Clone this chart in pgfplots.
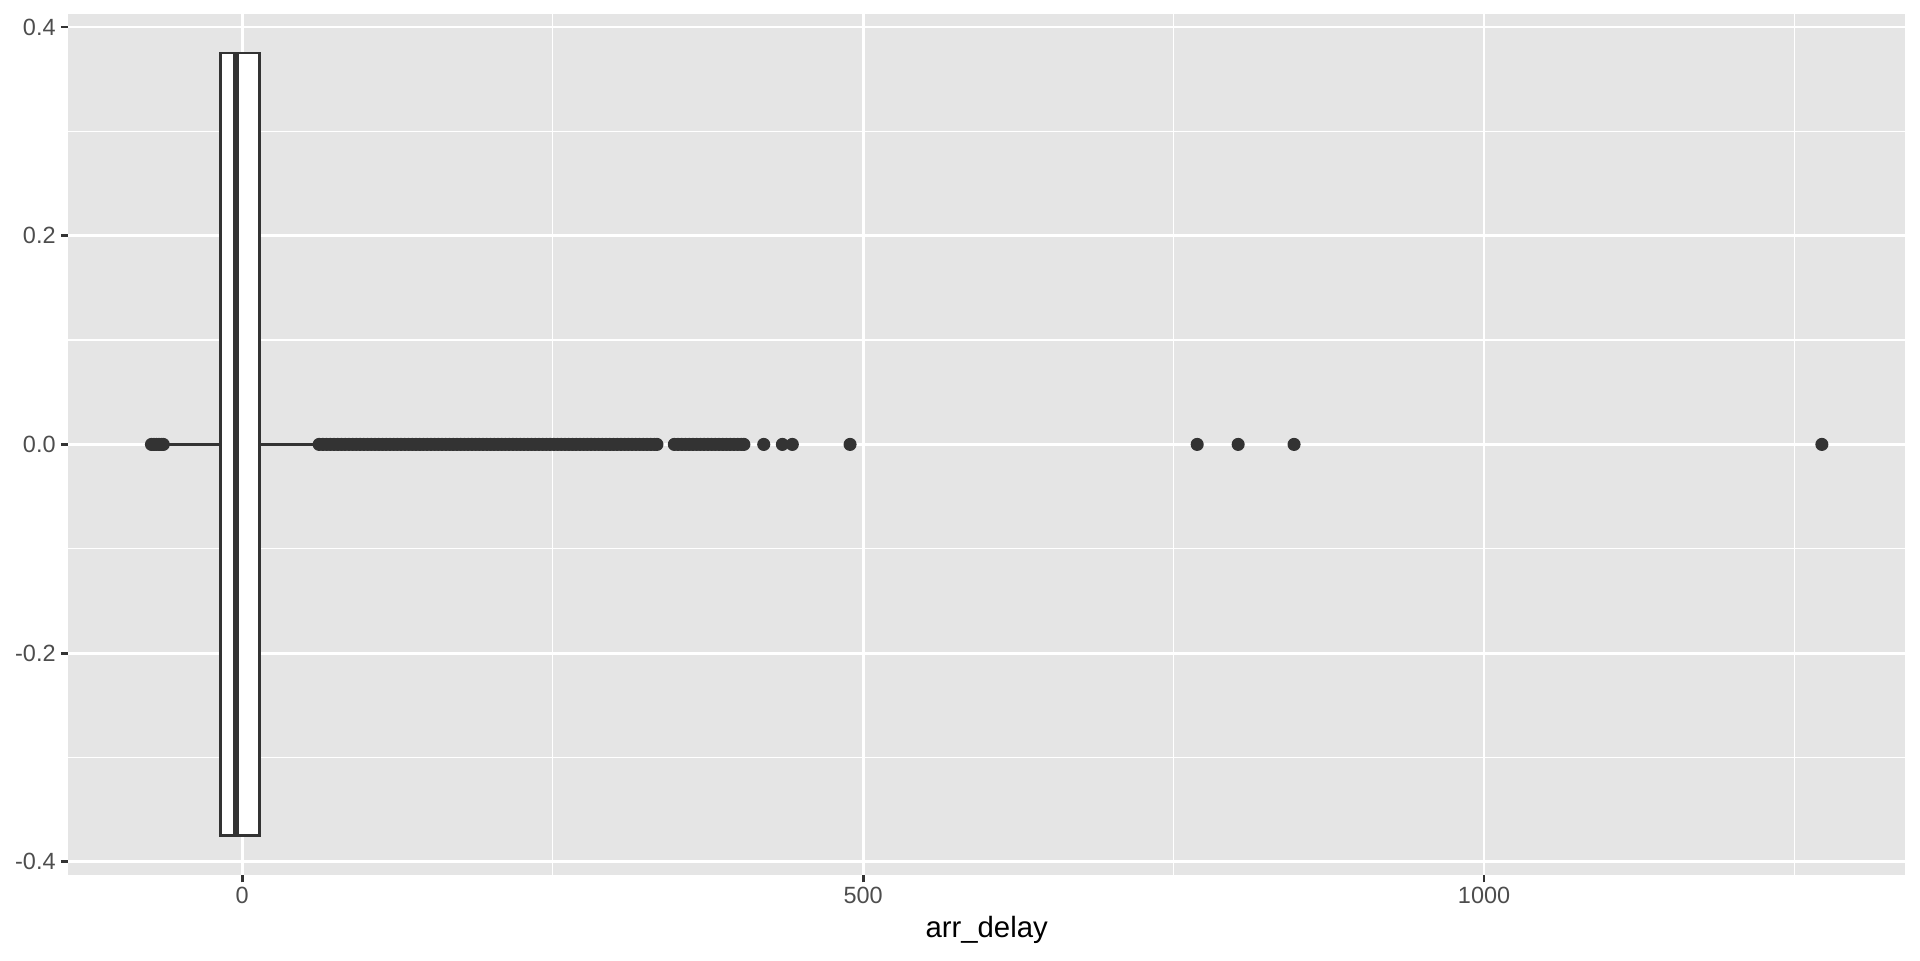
\documentclass[border=0pt]{standalone}
\usepackage{fontspec}
\setmainfont{Liberation Sans}
\usepackage{pgfplots}
\pgfplotsset{compat=1.18}
\usepgfplotslibrary{statistics}
\definecolor{panelbg}{HTML}{E5E5E5}
\definecolor{gtwenty}{HTML}{333333}
\definecolor{gthirty}{HTML}{4D4D4D}
\begin{document}
\begin{tikzpicture}
\path[use as bounding box] (0,0) rectangle (720pt,360pt);
\begin{axis}[
  at={(25.6pt,31.9pt)}, anchor=south west,
  scale only axis, width=688.8pt, height=322.9pt,
  xmin=-140, xmax=1339, ymin=-0.4125, ymax=0.4125,
  xtick={0,500,1000}, xticklabels={0,500,1000},
  minor xtick={250,750,1250},
  ytick={-0.4,-0.2,0,0.2,0.4}, yticklabels={-0.4,-0.2,0.0,0.2,0.4},
  minor ytick={-0.3,-0.1,0.1,0.3},
  /pgf/number format/assume math mode=true,
  axis background/.style={fill=panelbg},
  axis line style={draw=none},
  grid=both,
  major grid style={white, line width=1.07pt},
  minor grid style={white, line width=0.53pt},
  tick align=outside, xtick pos=bottom, ytick pos=left,
  major tick length=2.75pt, minor tick length=0pt,
  tick style={gtwenty, line width=1.07pt},
  ticklabel style={font=\fontsize{8.8}{10}\selectfont, text=gthirty},
  xticklabel style={anchor=north, inner sep=0pt, yshift=-1.5pt},
  yticklabel style={anchor=east, inner sep=0pt, xshift=-1.8pt},
  xlabel={arr\_delay},
  xlabel style={font=\fontsize{11}{13}\selectfont, text=black, yshift=-1.4pt},
  clip=true,
]
\addplot[gtwenty, line width=1.07pt, fill=white,
  boxplot prepared={
    draw direction=x,
    draw position=0,
    box extend=0.75,
    lower whisker=-62,
    lower quartile=-17.7,
    median=-5,
    upper quartile=14,
    upper whisker=59,
    whisker extend=0,
    every median/.style={line width=2.13pt},
  }] coordinates {};
\addplot[only marks, mark=*, mark size=2.25pt, color=gtwenty, mark options={fill=gtwenty, draw=none}]
coordinates {
(-73,0) (-71,0) (-69,0) (-67,0) (-65,0) (-63.5,0)
(62,0) (65,0) (68,0) (71,0) (74,0) (77,0) (80,0) (83,0) (86,0) (89,0)
(92,0) (95,0) (98,0) (101,0) (104,0) (107,0) (110,0) (113,0) (116,0) (119,0)
(122,0) (125,0) (128,0) (131,0) (134,0) (137,0) (140,0) (143,0) (146,0) (149,0)
(152,0) (155,0) (158,0) (161,0) (164,0) (167,0) (170,0) (173,0) (176,0) (179,0)
(182,0) (185,0) (188,0) (191,0) (194,0) (197,0) (200,0) (203,0) (206,0) (209,0)
(212,0) (215,0) (218,0) (221,0) (224,0) (227,0) (230,0) (233,0) (236,0) (239,0)
(242,0) (245,0) (248,0) (251,0) (254,0) (257,0) (260,0) (263,0) (266,0) (269,0)
(272,0) (275,0) (278,0) (281,0) (284,0) (287,0) (290,0) (293,0) (296,0) (299,0)
(302,0) (305,0) (308,0) (311,0) (314,0) (317,0) (320,0) (323,0) (326,0) (329,0)
(332,0) (334,0)
(348,0) (351,0) (354,0) (357,0) (360,0) (363,0) (366,0) (369,0) (372,0) (375,0)
(378,0) (381,0) (384,0) (387,0) (390,0) (393,0) (396,0) (399,0) (402,0) (404,0)
(420,0) (435,0) (443,0) (489.5,0)
(769,0) (802,0) (847,0) (1272,0)
};
\end{axis}
\end{tikzpicture}
\end{document}
